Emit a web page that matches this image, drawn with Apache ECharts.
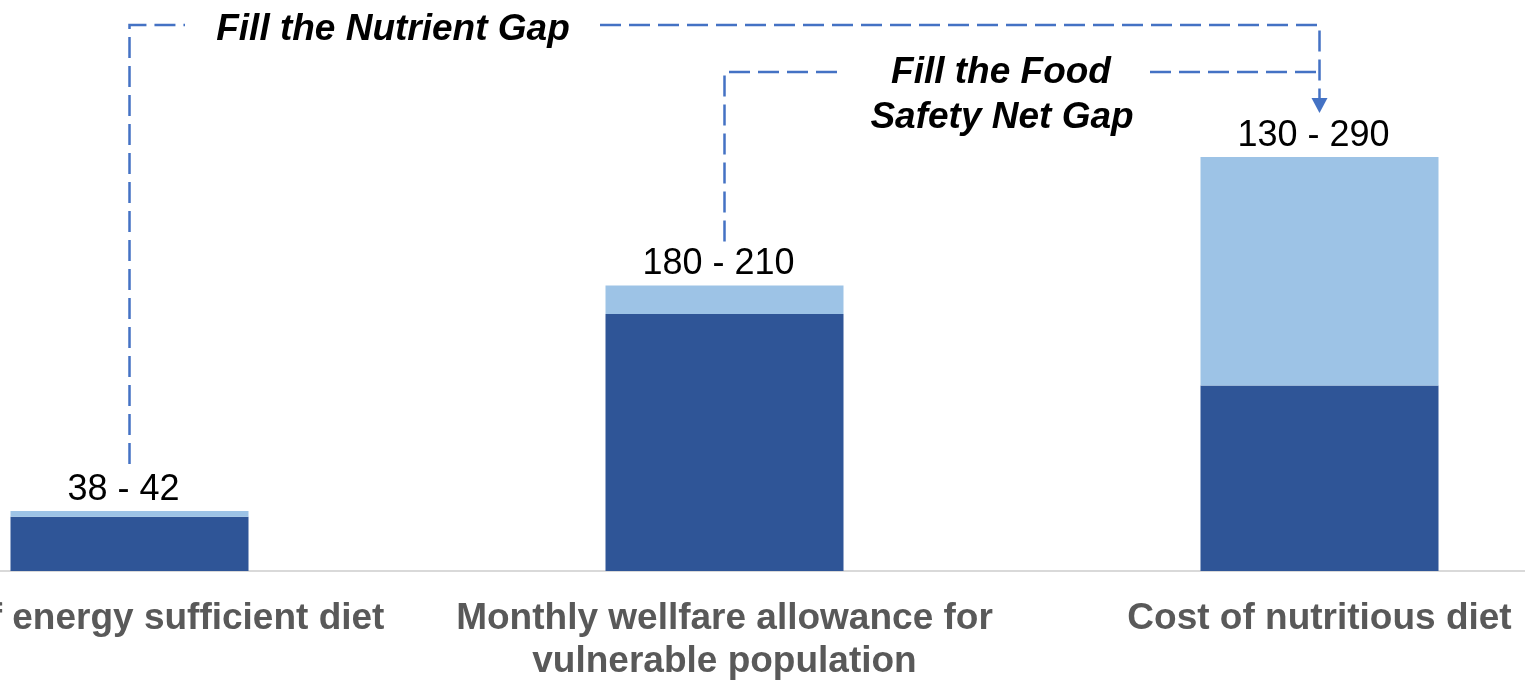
<!DOCTYPE html>
<html>
<head>
<meta charset="utf-8">
<script src="https://cdn.jsdelivr.net/npm/echarts@6/dist/echarts.min.js"></script>
<style>
html, body { margin: 0; padding: 0; background: #fff; overflow: hidden; width: 1525px; height: 685px; }
/* plot runs past both window edges: the first label is cut on the left */
#main { position: absolute; left: -168px; top: 0; width: 1785px; height: 685px; }
</style>
</head>
<body>
<div id="main"></div>
<script>
const categories = ['Cost of energy sufficient diet', 'Monthly wellfare allowance for\nvulnerable population', 'Cost of nutritious diet']
const lowValues = [38, 180, 130]
const gapValues = [4, 20, 160]
const rangeLabels = ['38 - 42', '180 - 210', '130 - 290']

const font = "'Liberation Sans', Arial, sans-serif"
const lineColor = '#4472c4'
const dash = [21, 8]
const shift = 168 // canvas starts left of the window

const chart = echarts.init(document.getElementById('main'))
const option = {
  animation: false,
  grid: { left: 0, right: 0, top: 0, bottom: 114 },
  xAxis: {
    type: 'category',
    data: categories,
    axisLine: { lineStyle: { color: '#d9d9d9', width: 2 } },
    axisTick: { show: false },
    axisLabel: {
      interval: 0,
      color: '#595959',
      fontWeight: 'bold',
      fontSize: 37,
      fontFamily: font,
      lineHeight: 43,
      margin: 26
    }
  },
  yAxis: { type: 'value', min: 0, max: 400, show: false },
  series: [
    {
      name: 'low',
      type: 'bar',
      stack: 'cost',
      barWidth: 238,
      data: lowValues,
      itemStyle: { color: '#2f5597' }
    },
    {
      name: 'gap',
      type: 'bar',
      stack: 'cost',
      data: gapValues,
      itemStyle: { color: '#9dc3e6' },
      label: {
        show: true,
        position: 'top',
        distance: 3,
        offset: [-6, 0],
        color: '#000',
        fontSize: 36,
        fontFamily: font,
        formatter: (p) => rangeLabels[p.dataIndex]
      }
    }
  ]
}
chart.setOption(option)

// annotation arrows, anchored on the bars
const xs = categories.map((c, i) => chart.convertToPixel({ xAxisIndex: 0 }, i))
const tops = lowValues.map((v, i) => chart.convertToPixel({ yAxisIndex: 0 }, v + gapValues[i]))
const dashed = (points) => ({
  type: 'polyline',
  shape: { points },
  style: { stroke: lineColor, lineWidth: 2.5, lineDash: dash, fill: null }
})
const title = (text, x, y) => ({
  type: 'text',
  x: x + shift,
  y,
  style: {
    text,
    font: 'italic bold 37px ' + font,
    fill: '#000',
    textAlign: 'center',
    textVerticalAlign: 'middle'
  }
})

chart.setOption({
  graphic: [
    dashed([[xs[0], tops[0] - 47], [xs[0], 25], [185 + shift, 25]]),
    dashed([[600 + shift, 25], [xs[2], 25], [xs[2], 100]]),
    {
      type: 'polygon',
      shape: { points: [[xs[2] - 8, 98], [xs[2] + 8, 98], [xs[2], 113]] },
      style: { fill: lineColor }
    },
    dashed([[xs[1], tops[1] - 44], [xs[1], 72], [840 + shift, 72]]),
    dashed([[1150 + shift, 72], [xs[2], 72]]),
    title('Fill the Nutrient Gap', 393, 30),
    title('Fill the Food', 1001, 73),
    title('Safety Net Gap', 1002, 118)
  ]
})
</script>
</body>
</html>
